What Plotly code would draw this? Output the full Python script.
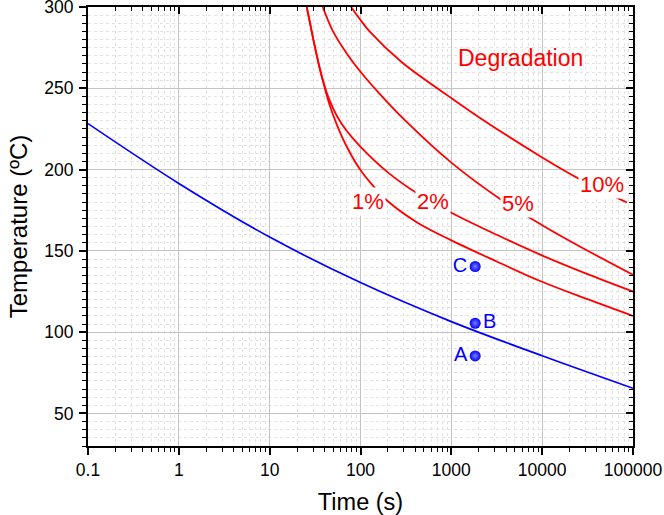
import numpy as np
import plotly.graph_objects as go

# ---------------- data ----------------
blue_time = [0.1, 1, 10, 100, 1000, 10000, 100000]
blue_temp = [228.3, 191.5, 158.5, 130.5, 106.5, 85.5, 65.5]

deg1_time = [25.6, 30, 34, 38, 45, 55, 70, 99, 140, 200, 420, 1000, 3162, 9500, 31600, 100000]
deg1_temp = [300, 281, 267, 256, 241, 227.5, 214.5, 200, 189.5, 180.5, 167.5, 156.5, 143.5, 131.5, 120.3, 110]

deg2_time = [25.6, 30, 34, 38, 45, 55, 70, 99, 200, 420, 1000, 3162, 9500, 31600, 100000]
deg2_temp = [300, 281, 267, 256, 243.5, 233, 224, 214.3, 198.3, 185.4, 173.5, 159.9, 147.7, 135.7, 125]

deg5_time = [38.4, 50, 70.8, 99, 158, 316, 1000, 3600, 10000, 28500, 100000]
deg5_temp = [300, 284.8, 271.3, 260.5, 247.4, 229.8, 204.3, 181.2, 165.8, 151.5, 135.3]

deg10_time = [78.8, 100, 128, 285, 1000, 2170, 10000, 26200, 85700]
deg10_temp = [300, 292, 284.5, 266, 244, 231, 207.5, 194, 179.8]

point_names = ["A", "B", "C"]
point_time = [1830, 1830, 1830]
point_temp = [85.4, 105.5, 140.4]

curve_labels = ["1%", "2%", "5%", "10%"]
label_time = [122, 622, 5370, 45400]
label_temp = [180.4, 180.4, 179, 190.7]

x_ticks = [0.1, 1, 10, 100, 1000, 10000, 100000]
x_tick_text = ["0.1", "1", "10", "100", "1000", "10000", "100000"]
y_ticks = [50, 100, 150, 200, 250, 300]

# ---------------- figure ----------------
FONT = "Liberation Sans, Arial, sans-serif"
RED = "#ff0000"
BLUE = "#0000ff"

fig = go.Figure()

fig.add_trace(go.Scatter(x=blue_time, y=blue_temp, mode="lines",
                         line=dict(color=BLUE, width=1.7, shape="spline", smoothing=1.0),
                         showlegend=False, hoverinfo="skip"))

for t, T in [(deg1_time, deg1_temp), (deg2_time, deg2_temp),
             (deg5_time, deg5_temp), (deg10_time, deg10_temp)]:
    fig.add_trace(go.Scatter(x=t, y=T, mode="lines",
                             line=dict(color=RED, width=1.8, shape="spline", smoothing=1.0),
                             showlegend=False, hoverinfo="skip"))

fig.add_trace(go.Scatter(
    x=point_time, y=point_temp, mode="markers+text",
    text=point_names,
    textposition=["middle left", "middle right", "middle left"],
    textfont=dict(family=FONT, size=20, color=BLUE),
    marker=dict(size=11, color=BLUE,
                gradient=dict(type="radial", color="#7c7cff"),
                line=dict(width=0)),
    showlegend=False, hoverinfo="skip"))

# invisible trace on the mirrored axes (top / right, inside ticks)
fig.add_trace(go.Scatter(x=blue_time, y=blue_temp, xaxis="x2", yaxis="y2", mode="lines",
                         line=dict(color="rgba(0,0,0,0)", width=0),
                         showlegend=False, hoverinfo="skip"))

minor_x = [k * 10.0 ** d for d in range(-1, 5) for k in range(2, 10)]

major_grid = "#c4c4c4"
minor_grid = "#e2e2e2"

fig.update_layout(
    width=664, height=515,
    margin=dict(l=88, r=31, t=7, b=69),
    paper_bgcolor="white", plot_bgcolor="white",
    font=dict(family=FONT, color="black"),
    xaxis=dict(
        type="log", range=[-1, 5], automargin=False,
        tickvals=x_ticks, ticktext=x_tick_text, ticklabeloverflow="allow",
        ticks="outside", ticklen=7, tickwidth=1.6, tickcolor="black",
        showline=True, linecolor="black", linewidth=2, mirror=True,
        showgrid=True, gridcolor=major_grid, gridwidth=1,
        zeroline=False,
        tickfont=dict(size=17.5),
        minor=dict(tickvals=minor_x, ticks="outside", ticklen=4, tickwidth=1.4,
                   tickcolor="black", showgrid=True, gridcolor=minor_grid,
                   griddash="dot", gridwidth=1),
        title=dict(text="Time (s)", font=dict(size=23.5), standoff=19),
    ),
    xaxis2=dict(
        type="log", range=[-1, 5], overlaying="x", side="top", anchor="y",
        automargin=False, visible=True,
        tickvals=x_ticks, showticklabels=False,
        ticks="inside", ticklen=7, tickwidth=1.6, tickcolor="black",
        showline=True, linecolor="black", linewidth=2,
        showgrid=False, zeroline=False,
        minor=dict(tickvals=minor_x, ticks="inside", ticklen=4, tickwidth=1.4,
                   tickcolor="black", showgrid=False),
    ),
    yaxis=dict(
        range=[30, 300], automargin=False,
        tickvals=y_ticks, ticklabeloverflow="allow", ticklabelstandoff=2,
        ticks="outside", ticklen=7, tickwidth=1.6, tickcolor="black",
        showline=True, linecolor="black", linewidth=2, mirror=True,
        showgrid=True, gridcolor=major_grid, gridwidth=1,
        zeroline=False,
        tickfont=dict(size=17.5),
        minor=dict(dtick=5, tick0=0, ticks="outside", ticklen=4, tickwidth=1.4,
                   tickcolor="black", showgrid=True, gridcolor=minor_grid,
                   griddash="dot", gridwidth=1),
        title=dict(text="Temperature (ºC)", font=dict(size=24), standoff=10),
    ),
    yaxis2=dict(
        range=[30, 300], overlaying="y", side="right", anchor="x",
        automargin=False, visible=True,
        tickvals=y_ticks, showticklabels=False,
        ticks="inside", ticklen=7, tickwidth=1.6, tickcolor="black",
        showline=True, linecolor="black", linewidth=2,
        showgrid=False, zeroline=False,
        minor=dict(dtick=5, tick0=0, ticks="inside", ticklen=4, tickwidth=1.4,
                   tickcolor="black", showgrid=False),
    ),
)

for lab, t, T in zip(curve_labels, label_time, label_temp):
    fig.add_annotation(x=np.log10(t), y=T, xref="x", yref="y", text=lab,
                       showarrow=False, bgcolor="white", borderpad=1,
                       font=dict(family=FONT, size=22, color=RED))

fig.add_annotation(x=np.log10(5840), y=268.9, xref="x", yref="y", text="Degradation",
                   showarrow=False, font=dict(family=FONT, size=23, color=RED))

fig.write_html("out.html")
